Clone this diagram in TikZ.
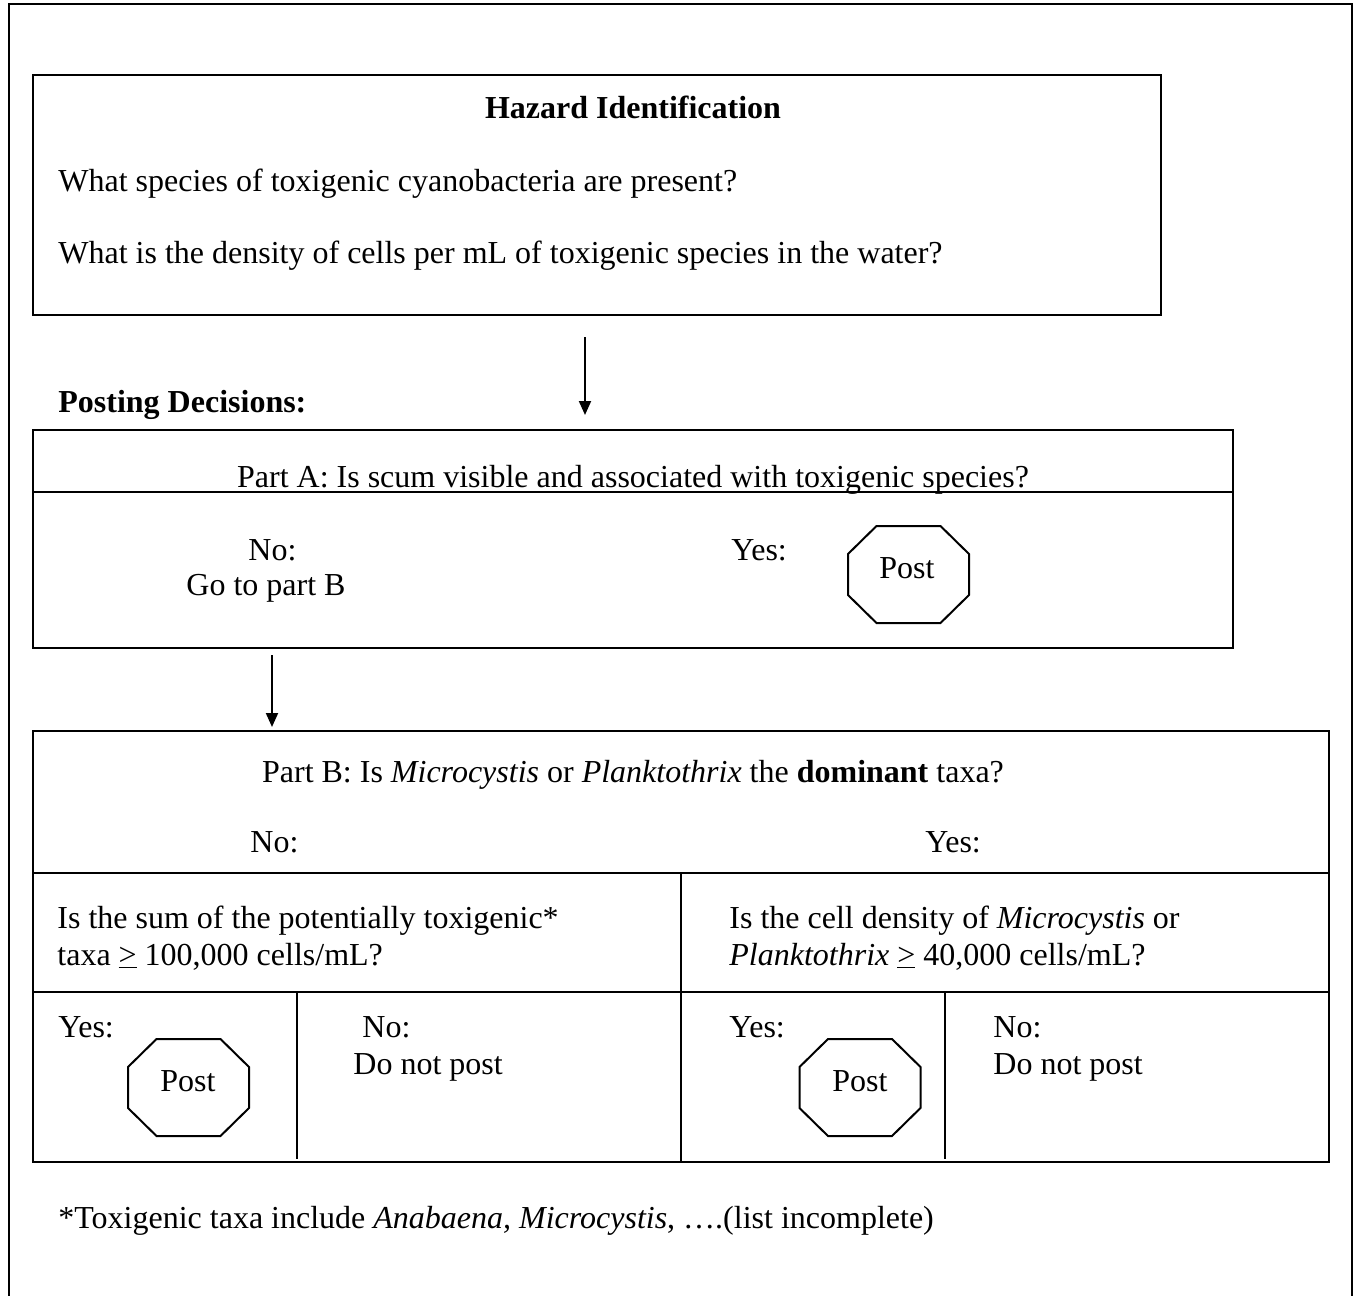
\documentclass[tikz,border=0pt]{standalone}
\usepackage{fontspec}
\setmainfont{Liberation Serif}
\usetikzlibrary{arrows.meta}
\tikzset{
  box/.style={draw=black,line width=1pt},
  txt/.style={anchor=base west,inner sep=0pt,font=\fontsize{16pt}{19pt}\selectfont},
  ctxt/.style={anchor=base,inner sep=0pt,font=\fontsize{16pt}{19pt}\selectfont},
  flow/.style={line width=1pt,-{Triangle[length=7pt,width=6pt]}}
}
\newcommand\octagon[2]{\draw[box] (#1,#2) ++(-32,-48.5) -- ++(64,0) -- ++(28.5,28) -- ++(0,41) -- ++(-28.5,28) -- ++(-64,0) -- ++(-28.5,-28) -- ++(0,-41) -- cycle;}
\begin{document}
\begin{tikzpicture}[x=0.5pt,y=-0.5pt]
\useasboundingbox (0,0) rectangle (1356,1296);
% outer frame
\draw[box] (9,1300) -- (9,4) -- (1352,4) -- (1352,1300);
% hazard box
\draw[box] (33,75) rectangle (1161,315);
\node[ctxt,font=\fontsize{16pt}{19pt}\selectfont\bfseries] (title) at (633,118) {Hazard Identification};
\node[txt] (q1) at (58,191) {What species of toxigenic cyanobacteria are present?};
\node[txt] (q2) at (58,263) {What is the density of cells per mL of toxigenic species in the water?};
\coordinate (a1s) at (585,337);
\coordinate (a1e) at (585,415);
\draw[flow] (a1s) -- (a1e);
\node[txt,font=\fontsize{16pt}{19pt}\selectfont\bfseries] (pd) at (58,412) {Posting Decisions:};
% Part A
\draw[box] (33,430) rectangle (1233,648);
\draw[box] (33,492) -- (1233,492);
\node[ctxt] (pa) at (633,487) {Part A: Is scum visible and associated with toxigenic species?};
\node[txt] (ano) at (248,560) {No:};
\node[txt] (ago) at (186,595) {Go to part B};
\node[txt] (ayes) at (731,560) {Yes:};
\octagon{908.5}{574.5}
\node[ctxt] (apost) at (907,578) {Post};
\coordinate (a2s) at (272,655);
\coordinate (a2e) at (272,727);
\draw[flow] (a2s) -- (a2e);
% Part B
\draw[box] (33,731) rectangle (1329,1162);
\node[ctxt] (pb) at (633,782) {Part B: Is \textit{Microcystis} or \textit{Planktothrix} the \textbf{dominant} taxa?};
\node[txt] (bno) at (250,852) {No:};
\node[txt] (byes) at (925,852) {Yes:};
\draw[box] (33,873) -- (1329,873);
\draw[box] (681,873) -- (681,1162);
\node[txt] (l1) at (57,928) {Is the sum of the potentially toxigenic*};
\node[txt] (l2) at (57,965) {taxa \underline{>} 100,000 cells/mL?};
\node[txt] (r1) at (729,928) {Is the cell density of \textit{Microcystis} or};
\node[txt] (r2) at (729,965) {\textit{Planktothrix} \underline{>} 40,000 cells/mL?};
\draw[box] (33,992) -- (1329,992);
\draw[box] (297,992) -- (297,1159);
\draw[box] (945,992) -- (945,1159);
\node[txt] (lyes) at (58,1037) {Yes:};
\octagon{188.5}{1087.5}
\node[ctxt] (lpost) at (188,1091) {Post};
\node[txt] (lno) at (362,1037) {No:};
\node[txt] (lnp) at (353,1074) {Do not post};
\node[txt] (ryes) at (729,1037) {Yes:};
\octagon{860}{1087.5}
\node[ctxt] (rpost) at (860,1091) {Post};
\node[txt] (rno) at (993,1037) {No:};
\node[txt] (rnp) at (993,1074) {Do not post};
\node[txt] (fn) at (58,1228) {*Toxigenic taxa include \textit{Anabaena, Microcystis}, \ldots.(list incomplete)};
\end{tikzpicture}
\end{document}
